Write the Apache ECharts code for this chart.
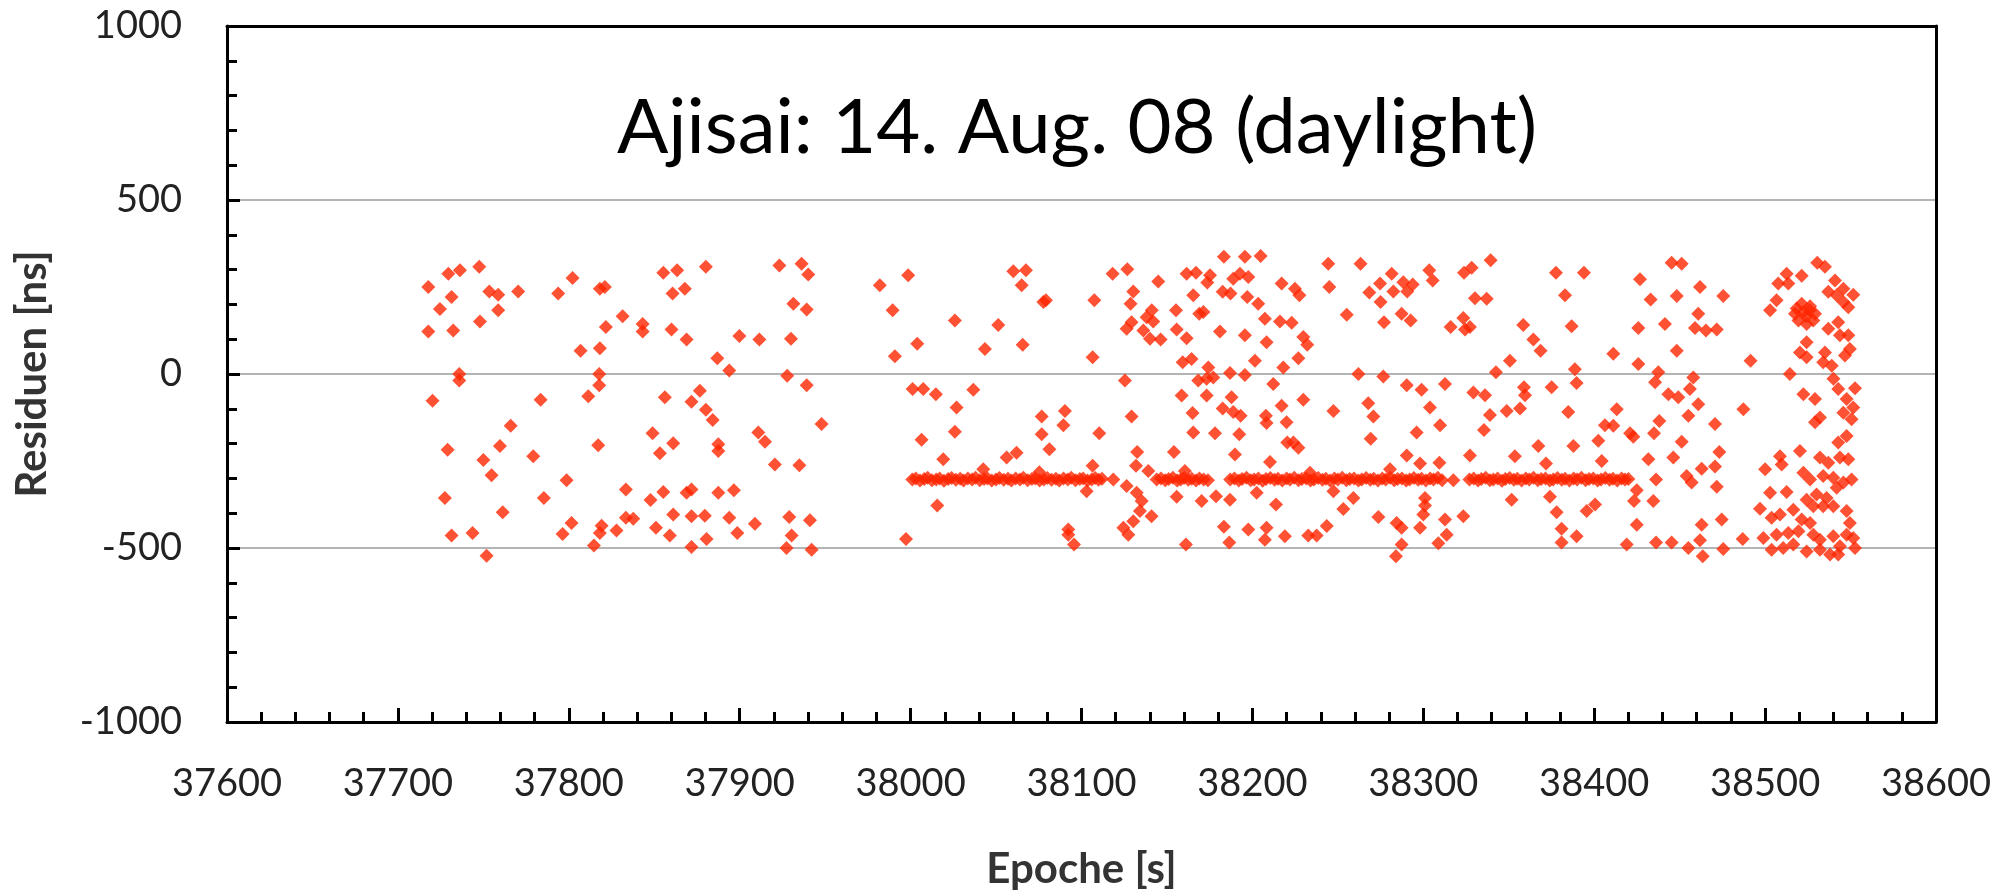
<!DOCTYPE html>
<html>
<head>
<meta charset="utf-8">
<script src="https://cdn.jsdelivr.net/npm/echarts@6/dist/echarts.min.js"></script>
<style>
  html, body { margin: 0; padding: 0; background: #fff; }
  #chart { width: 2015px; height: 894px; }
</style>
</head>
<body>
<div id="chart"></div>
<script>
// Residuen [ns] gegen Epoche [s], Punkte
const pass1 = [
  [37717.8,250],[37717.8,122],[37729.5,288],[37736.3,298],[37747.6,308],[37731.4,221],[37724.6,187],[37732.4,125],
  [37753.5,237],[37758.7,228],[37758.7,183],[37748,151],[37770.4,237],[37735.9,0],[37735.9,-19],[37720.3,-77],
  [37729.1,-218],[37727.5,-356],[37731.4,-464],[37743.7,-457],[37751.9,-522],[37761.3,-397],[37754.8,-291],[37750,-247],
  [37759.7,-207],[37766,-149],[37779.2,-236],[37783.5,-74],[37785.4,-356],[37798.7,-305],[37796.4,-460],[37801.6,-428],
  [37793.8,231],[37802.2,276],[37806.9,67],[37818.2,74],[37818.2,245],[37821.1,250],[37821.7,135],[37817.8,0],
  [37817.8,-32],[37811.4,-64],[37817.2,-205],[37814.7,-493],[37819.2,-436],[37818.2,-457],[37827.9,-450],[37833.4,-332],
  [37833.4,-413],[37837.7,-416],[37831.5,166],[37843.2,144],[37843.2,122],[37849,-170],[37853.3,-228],[37861.1,-199],
  [37856.2,-67],[37847.8,-362],[37855.3,-339],[37851,-442],[37859.1,-464],[37861.1,-404],[37868.9,-341],[37871.8,-332],
  [37871.8,-409],[37879.6,-407],[37871.8,-497],[37880.6,-474],[37855.3,291],[37863.4,298],[37860.7,231],[37867.9,245],
  [37860.1,128],[37868.9,99],[37871.8,-80],[37876.7,-48],[37880.2,-103],[37880.2,308],
  [37923.2,312],[37936.2,317],[37940.1,286],[37931.4,202],[37939.2,185],[37899.8,109],[37911.5,99],[37930,101],
  [37886.9,45],[37893.9,10],[37927.8,-5],[37939.2,-32],[37884.2,-132],[37947.9,-144],[37910.9,-168],[37914.8,-195],
  [37887.5,-202],[37887.5,-221],[37920.6,-260],[37934.9,-262],[37887.5,-341],[37896.6,-334],[37893.9,-413],[37898.6,-457],
  [37908.9,-430],[37929,-411],[37930.4,-464],[37941.1,-420],[37927.4,-500],[37942.1,-505]
];

const pass2 = [
  [37997.3,-474],[37982,255],[37998.6,284],[37989.5,183],[37990.8,51],[38003.9,87],[38025.9,154],[38043.5,72],
  [38051.3,141],[38001.2,-43],[38007.4,-43],[38014.8,-58],[38036.7,-45],[38026.9,-96],[38025.9,-166],[38006.4,-189],
  [38019.1,-245],[38015.6,-378],[38042.5,-274],
  [38060.1,295],[38067.5,298],[38065,255],[38079.2,212],[38077.7,207],[38065.6,84],[38107.5,212],[38106.5,48],
  [38118.2,288],[38126.8,301],[38130.3,237],[38128.7,202],[38144.9,266],[38141.1,183],[38138.1,163],[38129.3,149],
  [38126.4,130],[38142,151],[38136.2,125],[38140.1,101],[38146.3,99],[38155.3,183],[38155.7,128],[38161.5,103],
  [38159.2,34],[38164.4,43],[38161.5,288],[38167,291],[38165.4,226],[38168.9,173],[38171.3,178],[38175.2,284],
  [38173.6,263],[38183.3,337],[38182.6,236],[38187.2,231],[38188.8,274],[38192.7,288],[38195.6,337],[38197.6,279],
  [38204.8,339],[38197,221],[38203.4,202],[38181,122],[38195.6,111],[38207.3,159],[38208.3,91],[38201.5,38],
  [38217.1,260],[38216.1,151],[38218.1,19],[38174.2,19],[38168.3,-19],[38173.2,-14],[38177.1,-10],[38186.9,3],
  [38195.6,-3],[38212.2,-29],[38158.6,-62],[38173.2,-62],[38187.8,-67],[38125.4,-19],[38129.3,-122],[38165,-112],
  [38182.6,-99],[38188.8,-109],[38193.1,-120],[38207.9,-120],[38217.1,-91],[38220,-139],[38165.4,-168],[38178.1,-170],
  [38192.3,-173],[38208.3,-141],[38076.7,-122],[38090.3,-106],[38089.4,-147],[38076.7,-173],[38081.2,-216],[38110.4,-170],
  [38056.2,-240],[38062,-226],[38132.6,-224],[38154.1,-224],[38189.8,-231],[38210.3,-253],[38220.4,-197],[38106.5,-264],
  [38131.9,-264],[38139.1,-279],[38103,-337],[38155.7,-353],[38170.3,-365],[38178.7,-351],[38186.9,-361],[38202.5,-341],
  [38213.8,-375],[38126.4,-322],[38132.3,-341],[38135.2,-365],[38134.2,-394],[38141,-409],[38130.3,-423],[38124.5,-442],
  [38127.4,-462],[38092.3,-447],[38092.3,-462],[38095.6,-490],[38161.1,-490],[38183.3,-439],[38186.5,-484],[38197.6,-447],
  [38208.3,-442],[38207.3,-476],[38219,-466],[38118.6,-303],[38160.5,-279]
];

const pass3 = [
  [38244.4,317],[38263.3,317],[38245,250],[38224.9,245],[38227.5,226],[38223,147],[38229.8,106],[38232.1,84],
  [38226.9,45],[38255.2,170],[38268.4,234],[38274.7,260],[38281.5,288],[38275,207],[38277,149],[38282.5,237],
  [38288.3,264],[38290.6,237],[38293.8,257],[38287.3,173],[38292.6,154],[38303.5,298],[38305.5,269],[38323.8,291],
  [38328.3,305],[38339.4,327],[38330.2,218],[38337.1,216],[38316,135],[38323.4,161],[38327.3,135],[38324.4,128],
  [38350.7,38],[38358.5,141],[38364.4,99],[38368.6,67],[38377.6,291],[38382.9,226],[38386.8,137],[38388.7,14],
  [38262,0],[38276.6,-7],[38342.5,5],[38229.8,-74],[38247.4,-106],[38267.8,-84],[38270.8,-122],[38269.2,-186],
  [38290.3,-32],[38299,-45],[38312.7,-29],[38303.9,-96],[38309.8,-147],[38296.1,-168],[38329.3,-53],[38336.1,-61],
  [38339,-118],[38335.5,-161],[38348.8,-106],[38356.6,-99],[38358.9,-38],[38359.5,-61],[38375.1,-38],[38384.8,-109],
  [38389.7,-26],[38224,-197],[38226.9,-212],[38387.8,-207],[38367.3,-207],[38327.3,-234],[38353.6,-236],[38290.3,-234],
  [38298.1,-257],[38309.4,-255],[38371.8,-257],[38247.4,-337],[38259.1,-356],[38253.2,-388],[38351.7,-361],[38374.1,-353],
  [38378,-397],[38301,-356],[38301,-378],[38300,-404],[38273.7,-411],[38284.4,-428],[38287.3,-442],[38287.3,-490],
  [38284,-524],[38298.1,-442],[38312.7,-418],[38323.4,-409],[38313.7,-462],[38308.8,-486],[38243.5,-437],[38237.6,-464],
  [38232.7,-464],[38380.9,-445],[38380.9,-484],[38389.7,-466],[38233.7,-284],[38280.5,-274],[38317.6,-305]
];

const pass4 = [
  [38394,291],[38426.8,272],[38433,214],[38448.3,224],[38445.3,320],[38451.2,317],[38461.9,250],[38475.5,224],
  [38460.9,173],[38425.8,132],[38441.4,144],[38459,132],[38465.4,125],[38471.7,128],[38411.2,58],[38425.8,29],
  [38448.3,67],[38491.5,38],[38437.5,5],[38435.6,-24],[38458,-10],[38456,-43],[38443.4,-58],[38449.2,-67],
  [38460.9,-87],[38413.2,-101],[38455.1,-120],[38438.1,-135],[38435,-170],[38406.3,-147],[38411.2,-149],[38421,-170],
  [38422.9,-180],[38402.4,-192],[38404.4,-250],[38451.2,-195],[38470.7,-144],[38473.2,-224],[38431.7,-245],[38446.3,-240],
  [38462.9,-272],[38470.7,-266],[38454.1,-293],[38457,-312],[38436.2,-303],[38471.7,-324],[38424.9,-334],[38423.3,-365],
  [38434.6,-365],[38400.5,-375],[38395.6,-394],[38424.9,-433],[38419,-490],[38436.2,-484],[38445.3,-484],[38455.1,-500],
  [38462.9,-433],[38461.9,-478],[38463.5,-524],[38474.6,-418],[38475.5,-503],[38486.9,-474],[38487.3,-101],
  [38512.6,288],[38521.4,282],[38507.7,260],[38513.6,260],[38530.5,320],[38535,308],[38540.9,269],[38545.8,245],
  [38551.6,228],[38537,236],[38541.9,226],[38506.7,212],[38502.9,183],
  [38518.5,188],[38521.4,202],[38526.3,195],[38529.2,173],[38528.2,154],[38524.3,144],[38519.5,154],[38517.5,173],
  [38522.5,178],[38524,166],[38526,183],
  [38545.8,207],[38548.7,192],[38537,130],[38542.8,149],[38543.8,111],[38548.7,111],[38549.6,72],[38546.7,53],
  [38520.4,62],[38524.3,91],[38524.3,48],[38535,62],[38534,34],[38539,24],[38514.5,0],[38540,-14],
  [38542.8,-43],[38552.6,-41],[38522.4,-58],[38529.2,-72],[38547.7,-72],[38551.6,-96],[38545.8,-111],[38550.6,-130],
  [38532.1,-125],[38529.2,-139],[38547.7,-178],[38542.8,-197],[38520.4,-221],[38508.7,-236],[38532.1,-240],[38537,-255],
  [38543.8,-240],[38548.7,-245],[38500,-274],[38509.7,-260],[38522.4,-284],[38526.3,-303],[38534,-293],[38539.9,-298],
  [38545.8,-312],[38550.6,-303],[38541.9,-327],[38502.9,-341],[38512.6,-339],[38524.3,-361],[38530.1,-346],[38536,-356],
  [38528.2,-380],[38534,-380],[38539.9,-380],[38497,-387],[38503.8,-413],[38508.7,-404],[38516.5,-390],[38521.4,-418],
  [38526.3,-428],[38547.7,-394],[38549.6,-428],[38506.7,-462],[38513.6,-457],[38519.5,-452],[38528.2,-462],[38532.1,-476],
  [38539.9,-466],[38547.7,-462],[38551.6,-471],[38499,-471],[38503.8,-505],[38510.6,-500],[38516.5,-490],[38524.3,-510],
  [38532.1,-505],[38538,-519],[38542.8,-519],[38552.6,-500],[38543.8,-495]
];

// dichte Reihen bei etwa -300 ns
const run1 = [
  [38001,-303],[38003,-300],[38005.5,-306],[38008,-302],[38010,-298],[38012.5,-305],[38015,-303],[38017,-300],
  [38019.5,-307],[38022,-302],[38024,-299],[38026.5,-304],[38029,-301],[38031,-306],[38033.5,-300],[38036,-303],
  [38038,-298],[38040.5,-305],[38043,-302],[38045,-300],[38047.5,-306],[38050,-303],[38052,-299],[38054.5,-304],
  [38057,-301],[38059,-306],[38061.5,-300],[38064,-303],[38066,-298],[38068.5,-305],[38071,-302],[38073,-300],
  [38075.3,-282],[38075.5,-306],[38078,-303],[38080,-299],[38082.5,-304],[38085,-301],[38087,-306],[38089.5,-300],
  [38092,-303],[38094,-298],[38096.5,-305],[38099,-302],[38101,-300],[38103.5,-306],[38106,-303],[38108,-299],
  [38110,-304],[38112,-301]
];
const run2 = [
  [38144,-303],[38146.5,-300],[38149,-305],[38151,-302],[38153.5,-298],[38156,-306],[38158,-303],[38160,-299],
  [38162.5,-304],[38164.5,-301],[38167,-306],[38169,-300],[38171.5,-303],[38174,-305]
];
const run3 = [
  [38187,-303],[38189.5,-300],[38192,-306],[38194,-302],[38196.5,-298],[38199,-305],[38201,-303],[38203.5,-300],
  [38206,-307],[38208,-302],[38210.5,-299],[38213,-304],[38215,-301],[38217.5,-306],[38220,-300],[38222,-303],
  [38224.5,-298],[38227,-305],[38229,-302],[38231.5,-300],[38234,-306],[38236,-303],[38238.5,-299],[38241,-304],
  [38243,-301],[38245.5,-306],[38248,-300],[38250,-303],[38252.5,-298],[38255,-305],[38257,-302],[38259.5,-300],
  [38262,-306],[38264,-303],[38266.5,-299],[38269,-304],[38271,-301],[38273.5,-306],[38276,-300],[38278,-303],
  [38280.5,-298],[38283,-305],[38285,-302],[38287.5,-300],[38290,-306],[38292,-303],[38294.5,-299],[38297,-304],
  [38299,-301],[38301.5,-306],[38304,-300],[38306,-303],[38308.5,-298],[38311,-305]
];
const run4 = [
  [38327,-303],[38329.5,-300],[38332,-306],[38334,-302],[38336.5,-298],[38339,-305],[38341,-303],[38343.5,-300],
  [38346,-307],[38348,-302],[38350.5,-299],[38353,-304],[38355,-301],[38357.5,-306],[38360,-300],[38362,-303],
  [38364.5,-298],[38367,-305],[38369,-302],[38371.5,-300],[38374,-306],[38376,-303],[38378.5,-299],[38381,-304],
  [38383,-301],[38385.5,-306],[38388,-300],[38390,-303],[38392.5,-298],[38395,-305],[38397,-302],[38399.5,-300],
  [38402,-306],[38404,-303],[38406.5,-299],[38409,-304],[38411,-301],[38413.5,-306],[38416,-300],[38418,-303],
  [38420,-302]
];

const chart = echarts.init(document.getElementById('chart'));

const labelFont = 'Lato, "Open Sans", sans-serif';
const plain = v => String(v);

// Rahmen oben/rechts: Hilfsachsen ohne Beschriftung
const frameAxis = {
  axisLine: { show: true, onZero: false, lineStyle: { color: '#000', width: 3 } },
  axisTick: { show: false },
  axisLabel: { show: false },
  splitLine: { show: false }
};

const option = {
  animation: false,
  backgroundColor: '#fff',
  grid: {
    left: 227,
    right: 79,
    top: 26,
    bottom: 172,
    outerBoundsMode: 'none'
  },
  graphic: [{
    type: 'text',
    x: 1077,
    y: 128,
    style: {
      text: 'Ajisai: 14. Aug. 08 (daylight)',
      fontSize: 76,
      fontFamily: labelFont,
      fill: '#000',
      align: 'center',
      verticalAlign: 'middle'
    }
  }],
  xAxis: [{
    type: 'value',
    min: 37600,
    max: 38600,
    interval: 100,
    name: 'Epoche [s]',
    nameLocation: 'middle',
    nameGap: 126,
    nameTextStyle: { fontSize: 42, fontWeight: 'bold', color: '#333', fontFamily: labelFont },
    axisLine: { show: true, onZero: false, lineStyle: { color: '#000', width: 3 } },
    axisTick: { show: true, inside: true, length: 14, lineStyle: { color: '#000', width: 3 } },
    minorTick: { show: true, splitNumber: 5, length: 10, lineStyle: { color: '#000', width: 3 } },
    splitLine: { show: false },
    axisLabel: { fontSize: 38, color: '#222', fontFamily: labelFont, margin: 43, formatter: plain }
  }, Object.assign({ type: 'value', position: 'top', min: 37600, max: 38600 }, frameAxis)],
  yAxis: [{
    type: 'value',
    min: -1000,
    max: 1000,
    interval: 500,
    name: 'Residuen [ns]',
    nameLocation: 'middle',
    nameGap: 174,
    nameRotate: 90,
    nameTextStyle: { fontSize: 42, fontWeight: 'bold', color: '#333', fontFamily: labelFont },
    axisLine: { show: true, onZero: false, lineStyle: { color: '#000', width: 3 } },
    axisTick: { show: true, inside: true, length: 13, lineStyle: { color: '#000', width: 3 } },
    minorTick: { show: true, splitNumber: 5, length: 10, lineStyle: { color: '#000', width: 3 } },
    splitLine: { show: true, showMinLine: false, showMaxLine: false, lineStyle: { color: '#b4b4b4', width: 2 } },
    axisLabel: { fontSize: 38, color: '#222', fontFamily: labelFont, margin: 45, formatter: plain }
  }, Object.assign({ type: 'value', position: 'right', min: -1000, max: 1000 }, frameAxis)],
  series: [{
    type: 'scatter',
    symbol: 'diamond',
    symbolSize: 14,
    itemStyle: { color: '#ff2600' },
    data: [].concat(pass1, pass2, pass3, pass4, run1, run2, run3, run4)
  }]
};

chart.setOption(option);
</script>
</body>
</html>
